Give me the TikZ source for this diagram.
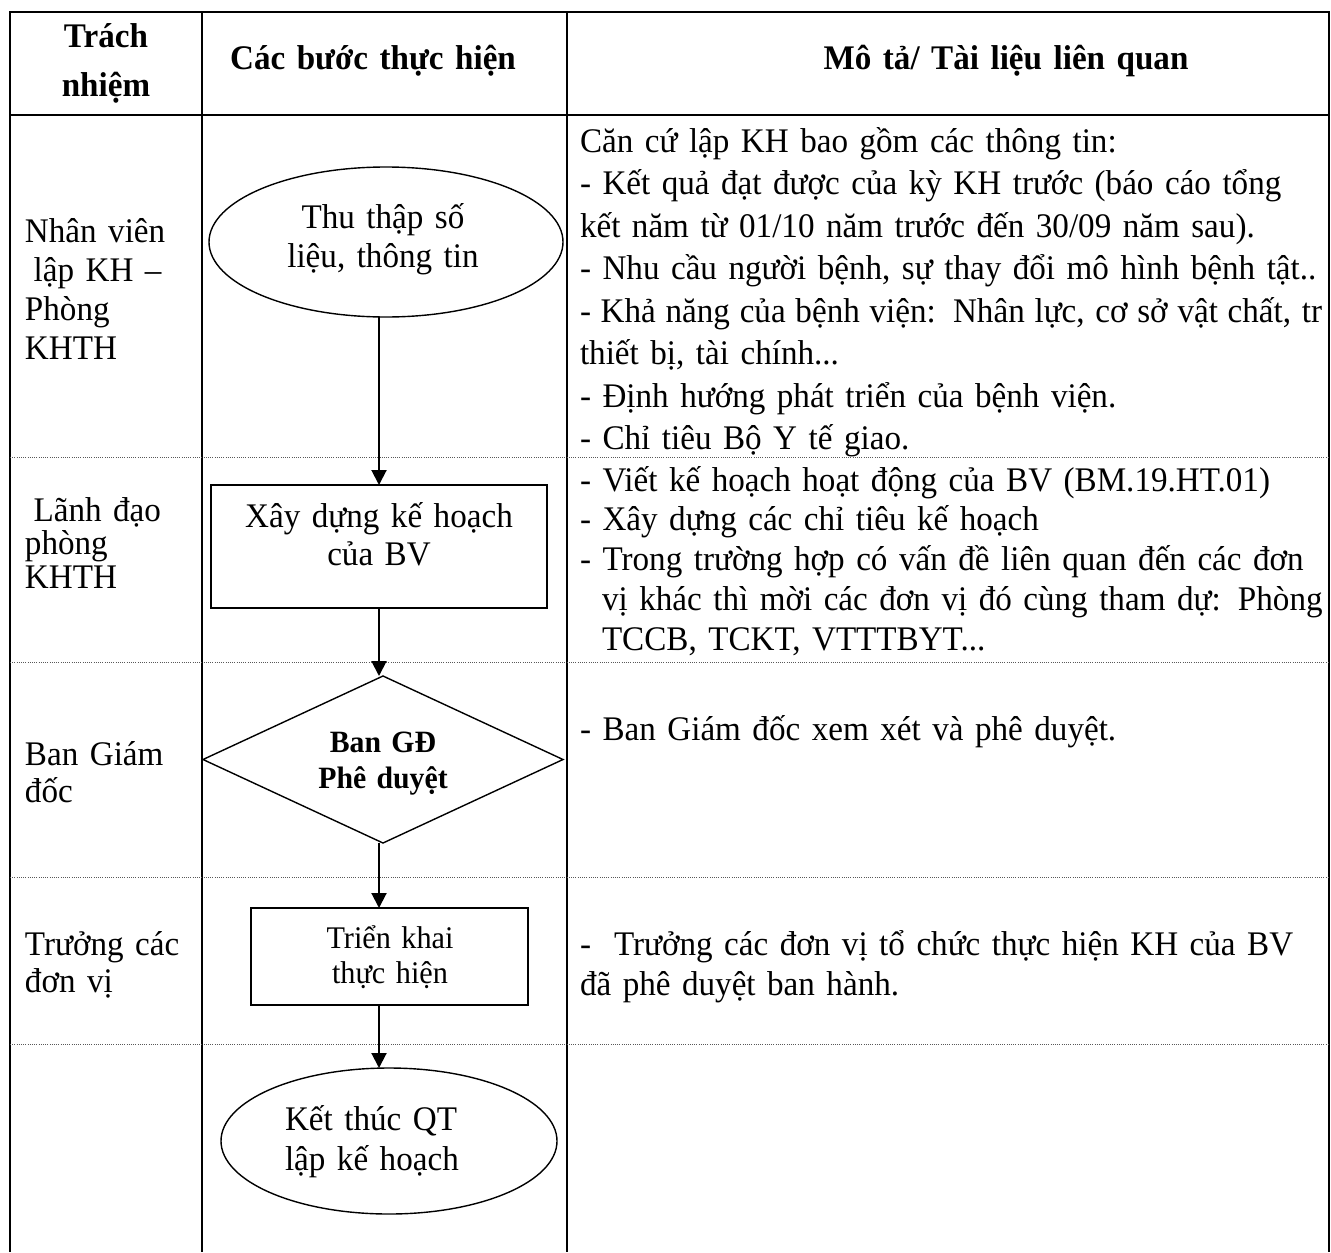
\documentclass[tikz,border=0pt]{standalone}
\usepackage{fontspec}
\setmainfont{Liberation Serif}[FakeStretch=0.96]
\usetikzlibrary{shapes.geometric,arrows.meta,calc}
\lineskiplimit=-100pt
\begin{document}
\begin{tikzpicture}[x=0.5pt,y=-0.5pt,
  every node/.style={inner sep=0pt,outer sep=0pt},
  frame/.style={line width=0.85pt},
  rowsep/.style={line width=0.5pt,black!65,dash pattern=on 0.5pt off 0.6pt},
  shapeline/.style={draw,line width=0.7pt},
  ell/.style={shapeline,ellipse},
  boxnode/.style={shapeline,rectangle},
  dia/.style={shapeline,diamond},
  arr/.style={line width=1pt,-{Triangle[length=7.5pt,width=7.5pt]}},
  hdr/.style={font=\fontsize{17.25}{24.5}\selectfont\bfseries,anchor=base,align=center},
  body/.style={font=\fontsize{17.25}{#1}\selectfont,anchor=base west,align=left},
  ctext/.style={font=\fontsize{17.25}{#1}\selectfont,anchor=base,align=center},
]
\useasboundingbox (0,0) rectangle (1331,1252);

% table frame
\draw[frame] (10,1252) -- (10,12) -- (1329,12) -- (1329,1252);
\draw[frame] (202,12) -- (202,1252);
\draw[frame] (567,12) -- (567,1252);
\draw[frame] (10,115) -- (1329,115);
\foreach \yy in {457,662,877,1044} \draw[rowsep] (10,\yy) -- (1329,\yy);

% header
\node[hdr,text width=90pt] (h1) at (106,48) {Trách\\nhiệm};
\node[hdr,text width=160pt] (h2) at (373,70) {Các bước thực hiện};
\node[hdr,text width=200pt] (h3) at (1006,70) {Mô tả/ Tài liệu liên quan};

% column 1
\node[body=19.5,text width=88pt] (c1) at (25,242) {Nhân viên\\\hspace*{0.25em}lập KH –\\Phòng\\KHTH};
\node[body=16.75,text width=88pt] (c2) at (25,521) {\hspace*{0.25em}Lãnh đạo\\phòng\\KHTH};
\node[body=18.5,text width=88pt] (c3) at (25,765) {Ban Giám\\đốc};
\node[body=18.5,text width=88pt] (c4) at (25,955) {Trưởng các\\đơn vị};

% column 3
\node[body=21.25,text width=372pt] (d1) at (580,152) {Căn cứ lập KH bao gồm các thông tin:\\
- Kết quả đạt được của kỳ KH trước (báo cáo tổng\\
kết năm từ 01/10 năm trước đến 30/09 năm sau).\\
- Nhu cầu người bệnh, sự thay đổi mô hình bệnh tật..\\
\makebox[371pt][s]{\spaceskip=0.17em plus 0.3em minus 0.05em - Khả năng của bệnh viện: Nhân lực, cơ sở vật chất, tr}\\
thiết bị, tài chính...\\
- Định hướng phát triển của bệnh viện.\\
- Chỉ tiêu Bộ Y tế giao.};
\node[body=19.9,text width=372pt] (d2) at (580,491) {- Viết kế hoạch hoạt động của BV (BM.19.HT.01)\\
- Xây dựng các chỉ tiêu kế hoạch\\
\makebox[366pt][s]{- Trong trường hợp có vấn đề liên quan đến các đơn}\\
\hspace*{11pt}\makebox[356pt][s]{vị khác thì mời các đơn vị đó cùng tham dự: Phòng}\\
\hspace*{11pt}TCCB, TCKT, VTTTBYT...};
\node[body=21,text width=372pt] (d3) at (580,740) {- Ban Giám đốc xem xét và phê duyệt.};
\node[body=20,text width=372pt] (d4) at (580,955) {\makebox[368pt][s]{-~~Trưởng các đơn vị tổ chức thực hiện KH của BV}\\
đã phê duyệt ban hành.};

% flowchart shapes
\coordinate (ax) at (379,0);
\node[ell,minimum width=177pt,minimum height=75pt] (e1) at (386,242) {};
\node[ctext=19.5,text width=110pt] (e1t) at (383,228) {Thu thập số\\liệu, thông tin};

\node[boxnode,minimum width=168pt,minimum height=61.5pt] (r1) at (379,546.5) {};
\node[ctext=19,text width=150pt] (r1t) at (379,527) {Xây dựng kế hoạch\\của BV};

\node[dia,minimum width=180pt,minimum height=83.5pt] (gd) at (383,759.5) {};
\node[font=\fontsize{15.5}{18}\selectfont\bfseries,anchor=base,align=center,text width=90pt] (gdt) at (383,752) {Ban GĐ\\Phê duyệt};

\node[boxnode,minimum width=138.5pt,minimum height=48.5pt] (r2) at (389.5,956.5) {};
\node[font=\fontsize{15.75}{17.5}\selectfont,anchor=base,align=center,text width=100pt] (r2t) at (390,948) {Triển khai\\thực hiện};

\node[ell,minimum width=168pt,minimum height=73pt] (e2) at (389,1141) {};
\node[body=20,text width=95pt] (e2t) at (285,1130) {Kết thúc QT\\lập kế hoạch};

% connectors
\draw[arr] (e1.south -| ax) -- (r1.north -| ax);
\draw[arr] (r1.south -| ax) -- (gd.north -| ax);
\draw[arr] (gd.south -| ax) -- (r2.north -| ax);
\draw[arr] (r2.south -| ax) -- (e2.north -| ax);
\end{tikzpicture}
\end{document}
